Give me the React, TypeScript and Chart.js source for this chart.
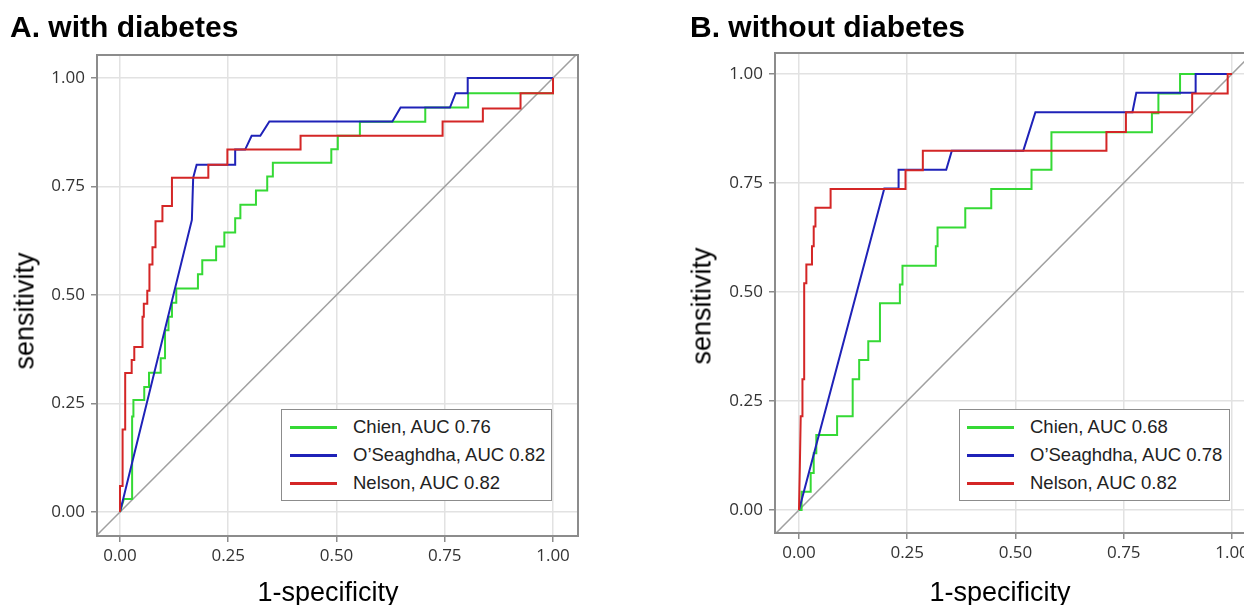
import React, { useEffect, useRef } from "react";
import { Chart, registerables } from "chart.js";
Chart.register(...registerables);

// ---------- data ----------
const TICKS = [0, 0.25, 0.5, 0.75, 1];
const TICK_LABELS = ["0.00", "0.25", "0.50", "0.75", "1.00"];
const SERIES_NAMES = ["Chien", "O\u2019Seaghdha", "Nelson"];
const A_AUC = ["0.76", "0.82", "0.82"];
const B_AUC = ["0.68", "0.78", "0.82"];
const DIAGONAL = [-0.2, 1.2];

const A_CHIEN_FPR = [0, 0.009, 0.028, 0.028, 0.031, 0.031, 0.056, 0.056, 0.067, 0.067, 0.094, 0.094, 0.104, 0.104, 0.112, 0.112, 0.12, 0.12, 0.13, 0.13, 0.18, 0.18, 0.19, 0.19, 0.222, 0.222, 0.241, 0.241, 0.266, 0.266, 0.278, 0.278, 0.314, 0.314, 0.34, 0.34, 0.353, 0.353, 0.488, 0.488, 0.503, 0.503, 0.554, 0.554, 0.705, 0.705, 0.804, 0.804, 1.0, 1.0];
const A_CHIEN_TPR = [0, 0.03, 0.03, 0.22, 0.22, 0.258, 0.258, 0.288, 0.288, 0.321, 0.321, 0.354, 0.354, 0.419, 0.419, 0.45, 0.45, 0.482, 0.482, 0.515, 0.515, 0.548, 0.548, 0.58, 0.58, 0.612, 0.612, 0.644, 0.644, 0.677, 0.677, 0.708, 0.708, 0.741, 0.741, 0.773, 0.773, 0.805, 0.805, 0.836, 0.836, 0.867, 0.867, 0.899, 0.899, 0.932, 0.932, 0.965, 0.965, 1.0];

const A_OSEA_FPR = [0, 0.166, 0.169, 0.177, 0.266, 0.266, 0.289, 0.304, 0.324, 0.345, 0.629, 0.648, 0.762, 0.775, 0.803, 0.803, 1.0];
const A_OSEA_TPR = [0, 0.673, 0.77, 0.8, 0.8, 0.835, 0.835, 0.867, 0.867, 0.9, 0.9, 0.932, 0.932, 0.965, 0.965, 1.0, 1.0];

const A_NELSON_FPR = [0, 0, 0.006, 0.006, 0.012, 0.012, 0.027, 0.027, 0.033, 0.033, 0.052, 0.052, 0.055, 0.055, 0.063, 0.063, 0.068, 0.068, 0.075, 0.075, 0.082, 0.082, 0.098, 0.098, 0.12, 0.12, 0.204, 0.204, 0.248, 0.248, 0.417, 0.417, 0.745, 0.745, 0.838, 0.838, 0.925, 0.925, 1.0, 1.0];
const A_NELSON_TPR = [0, 0.06, 0.06, 0.19, 0.19, 0.32, 0.32, 0.35, 0.35, 0.38, 0.38, 0.45, 0.45, 0.48, 0.48, 0.51, 0.51, 0.57, 0.57, 0.61, 0.61, 0.67, 0.67, 0.705, 0.705, 0.77, 0.77, 0.8, 0.8, 0.835, 0.835, 0.867, 0.867, 0.9, 0.9, 0.93, 0.93, 0.965, 0.965, 1.0];

const B_CHIEN_FPR = [0, 0.006, 0.006, 0.027, 0.027, 0.034, 0.034, 0.04, 0.04, 0.088, 0.088, 0.124, 0.124, 0.139, 0.139, 0.16, 0.16, 0.187, 0.187, 0.233, 0.233, 0.239, 0.239, 0.316, 0.316, 0.32, 0.32, 0.384, 0.384, 0.444, 0.444, 0.537, 0.537, 0.583, 0.583, 0.815, 0.815, 0.83, 0.83, 0.88, 0.88, 1.0];
const B_CHIEN_TPR = [0, 0, 0.042, 0.042, 0.085, 0.085, 0.13, 0.13, 0.172, 0.172, 0.215, 0.215, 0.3, 0.3, 0.344, 0.344, 0.387, 0.387, 0.474, 0.474, 0.517, 0.517, 0.56, 0.56, 0.605, 0.605, 0.648, 0.648, 0.692, 0.692, 0.736, 0.736, 0.78, 0.78, 0.866, 0.866, 0.91, 0.91, 0.955, 0.955, 1.0, 1.0];

const B_OSEA_FPR = [0, 0.197, 0.23, 0.23, 0.34, 0.353, 0.518, 0.546, 0.77, 0.779, 0.916, 0.916, 1.0];
const B_OSEA_TPR = [0, 0.737, 0.737, 0.78, 0.78, 0.824, 0.824, 0.912, 0.912, 0.957, 0.957, 1.0, 1.0];

const B_NELSON_FPR = [0, 0.002, 0.004, 0.008, 0.008, 0.012, 0.012, 0.017, 0.017, 0.03, 0.03, 0.034, 0.034, 0.038, 0.038, 0.073, 0.073, 0.246, 0.246, 0.286, 0.286, 0.71, 0.71, 0.755, 0.755, 0.908, 0.908, 0.99, 0.99, 1.0];
const B_NELSON_TPR = [0, 0.1, 0.215, 0.215, 0.3, 0.3, 0.52, 0.52, 0.563, 0.563, 0.605, 0.605, 0.65, 0.65, 0.693, 0.693, 0.736, 0.736, 0.779, 0.779, 0.824, 0.824, 0.867, 0.867, 0.912, 0.912, 0.955, 0.955, 1.0, 1.0];

// ---------- style ----------
const COLORS = ["#35d935", "#1f22b8", "#d42626"];
const SANS = "'Liberation Sans', Arial, sans-serif";
const TICK_FONT = "'Open Sans', 'Noto Sans', sans-serif";

type Curve = { fpr: number[]; tpr: number[] };

type PanelCfg = {
  title: string;
  titleLeft: number;
  canvasLeft: number;
  canvasWidth: number;
  frame: { l: number; t: number; r: number; b: number };
  xRange: [number, number];
  yRange: [number, number];
  curves: Curve[];
  aucs: string[];
  yTitle: [number, number];
  xTitle: [number, number];
  legend: { l: number; t: number; w: number; h: number; lineL: number; lineW: number; textL: number; rows: number[] };
};

const H = 605;

const framePlugin = {
  id: "frameBox",
  afterDraw(chart: any) {
    const { ctx, chartArea: a } = chart;
    ctx.save();
    ctx.strokeStyle = "#8c8c8c";
    ctx.lineWidth = 2;
    ctx.strokeRect(a.left, a.top, a.right - a.left, a.bottom - a.top);
    ctx.restore();
  },
};

function Panel({ cfg }: { cfg: PanelCfg }) {
  const ref = useRef<HTMLCanvasElement | null>(null);
  useEffect(() => {
    if (!ref.current) return;
    const f = cfg.frame;
    const yAxisW = f.l - cfg.canvasLeft;
    const xAxisH = H - f.b;
    const padRight = cfg.canvasLeft + cfg.canvasWidth - f.r;
    const order = [2, 1, 0];
    const datasets: any[] = cfg.curves.map((c, i) => ({
      label: SERIES_NAMES[i],
      data: c.fpr.map((x, j) => ({ x, y: c.tpr[j] })),
      borderColor: COLORS[i],
      backgroundColor: COLORS[i],
      borderWidth: 2,
      showLine: true,
      pointRadius: 0,
      tension: 0,
      order: order[i],
    }));
    datasets.push({
      label: "reference",
      data: DIAGONAL.map((v) => ({ x: v, y: v })),
      borderColor: "#a0a0a0",
      borderWidth: 1.5,
      showLine: true,
      pointRadius: 0,
      order: 5,
    });
    const tickCfg = {
      font: { family: TICK_FONT, size: 17 },
      color: "#333333",
      autoSkip: false,
      maxRotation: 0,
      callback: (v: any) => {
        const k = TICKS.indexOf(Number(v));
        return k >= 0 ? TICK_LABELS[k] : "";
      },
    };
    const grid = {
      color: "#e2e2e2",
      lineWidth: 1.5,
      tickColor: "#8c8c8c",
      tickLength: 6,
      tickWidth: 1.5,
    };
    const chart = new Chart(ref.current, {
      type: "scatter",
      data: { datasets },
      options: {
        responsive: false,
        animation: false,
        events: [],
        layout: { padding: { left: 0, top: f.t, right: padRight, bottom: 0 } },
        plugins: { legend: { display: false }, tooltip: { enabled: false }, title: { display: false } },
        scales: {
          x: {
            type: "linear",
            min: cfg.xRange[0],
            max: cfg.xRange[1],
            afterBuildTicks: (s: any) => {
              s.ticks = TICKS.map((v) => ({ value: v }));
            },
            afterFit: (s: any) => {
              s.height = xAxisH;
            },
            grid,
            border: { display: false },
            ticks: { ...tickCfg, padding: 4 },
          },
          y: {
            type: "linear",
            min: cfg.yRange[0],
            max: cfg.yRange[1],
            afterBuildTicks: (s: any) => {
              s.ticks = TICKS.map((v) => ({ value: v }));
            },
            afterFit: (s: any) => {
              s.width = yAxisW;
            },
            grid,
            border: { display: false },
            ticks: { ...tickCfg, padding: 6 },
          },
        },
      },
      plugins: [framePlugin],
    } as any);
    return () => chart.destroy();
  }, [cfg]);

  const L = cfg.legend;
  return (
    <>
      <canvas
        ref={ref}
        width={cfg.canvasWidth}
        height={H}
        style={{ position: "absolute", left: cfg.canvasLeft, top: 0, width: cfg.canvasWidth, height: H }}
      />
      <div
        style={{
          position: "absolute",
          left: cfg.titleLeft,
          top: 27,
          transform: "translateY(-50%)",
          fontFamily: SANS,
          fontWeight: 700,
          fontSize: 30,
          lineHeight: 1,
          color: "#000",
          whiteSpace: "nowrap",
        }}
      >
        {cfg.title}
      </div>
      <div
        style={{
          position: "absolute",
          left: cfg.yTitle[0],
          top: cfg.yTitle[1],
          transform: "translate(-50%, -50%) rotate(-90deg)",
          fontFamily: SANS,
          fontSize: 27,
          lineHeight: 1,
          color: "#000",
          whiteSpace: "nowrap",
        }}
      >
        sensitivity
      </div>
      <div
        style={{
          position: "absolute",
          left: cfg.xTitle[0],
          top: cfg.xTitle[1],
          transform: "translate(-50%, -50%)",
          fontFamily: SANS,
          fontSize: 27,
          lineHeight: 1,
          color: "#000",
          whiteSpace: "nowrap",
        }}
      >
        1-specificity
      </div>
      <div
        style={{
          position: "absolute",
          left: L.l,
          top: L.t,
          width: L.w,
          height: L.h,
          boxSizing: "border-box",
          border: "1.5px solid #8c8c8c",
          background: "#fff",
        }}
      />
      {SERIES_NAMES.map((name, i) => (
        <React.Fragment key={name}>
          <div
            style={{
              position: "absolute",
              left: L.lineL,
              top: L.rows[i] - 1.5,
              width: L.lineW,
              height: 3,
              background: COLORS[i],
            }}
          />
          <div
            style={{
              position: "absolute",
              left: L.textL,
              top: L.rows[i],
              transform: "translateY(-50%)",
              fontFamily: SANS,
              fontSize: 18.5,
              lineHeight: 1,
              color: "#222",
              whiteSpace: "nowrap",
            }}
          >
            {`${name}, AUC ${cfg.aucs[i]}`}
          </div>
        </React.Fragment>
      ))}
    </>
  );
}

const PANEL_A: PanelCfg = {
  title: "A. with diabetes",
  titleLeft: 10,
  canvasLeft: 0,
  canvasWidth: 620,
  frame: { l: 97, t: 55, r: 578, b: 536 },
  xRange: [-0.0531, 1.0577],
  yRange: [-0.0553, 1.053],
  curves: [
    { fpr: A_CHIEN_FPR, tpr: A_CHIEN_TPR },
    { fpr: A_OSEA_FPR, tpr: A_OSEA_TPR },
    { fpr: A_NELSON_FPR, tpr: A_NELSON_TPR },
  ],
  aucs: A_AUC,
  yTitle: [25, 311],
  xTitle: [328, 592],
  legend: { l: 281, t: 409, w: 271, h: 92, lineL: 290, lineW: 47, textL: 353, rows: [427, 455, 483] },
};

const PANEL_B: PanelCfg = {
  title: "B. without diabetes",
  titleLeft: 690,
  canvasLeft: 660,
  canvasWidth: 620,
  frame: { l: 775, t: 53, r: 1256, b: 533 },
  xRange: [-0.0554, 1.0554],
  yRange: [-0.0528, 1.048],
  curves: [
    { fpr: B_CHIEN_FPR, tpr: B_CHIEN_TPR },
    { fpr: B_OSEA_FPR, tpr: B_OSEA_TPR },
    { fpr: B_NELSON_FPR, tpr: B_NELSON_TPR },
  ],
  aucs: B_AUC,
  yTitle: [702, 306],
  xTitle: [1000, 592],
  legend: { l: 959, t: 409, w: 271, h: 92, lineL: 967, lineW: 47, textL: 1030, rows: [427, 455, 483] },
};

export default function App() {
  return (
    <div
      style={{
        position: "fixed",
        left: 0,
        top: 0,
        width: 1244,
        height: H,
        overflow: "hidden",
        background: "#fff",
      }}
    >
      <Panel cfg={PANEL_A} />
      <Panel cfg={PANEL_B} />
    </div>
  );
}
